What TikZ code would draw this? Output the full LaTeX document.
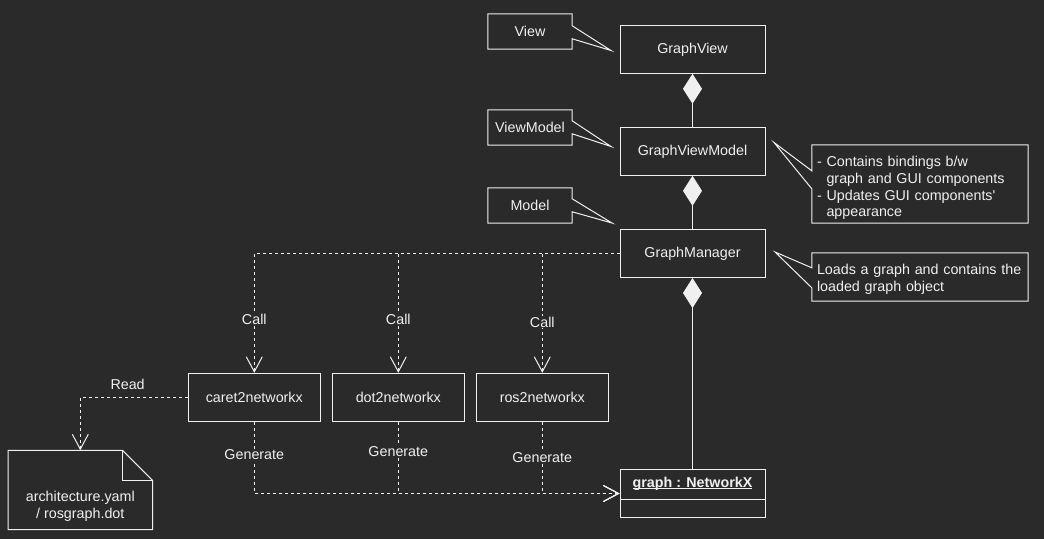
\documentclass[tikz,border=0pt]{standalone}
\usepackage{fontspec}
\setmainfont{Liberation Sans}
\usetikzlibrary{calc,arrows.meta}
\definecolor{bg}{HTML}{2A2A2A}
\definecolor{fg}{HTML}{F0F0F0}
\newcommand\ulname[1]{\setbox0\hbox{#1}\makebox[0pt][l]{\rule[-2pt]{\wd0}{1pt}}\box0}

\begin{document}
\begin{tikzpicture}[x=1pt,y=-1pt,
    every node/.style={text=fg, font=\fontsize{14.3}{16.7}\selectfont},
    cls/.style={draw=fg, line width=1pt, minimum width=145pt, minimum height=48pt},
    tool/.style={draw=fg, line width=1pt, minimum width=132pt, minimum height=48pt},
    tag/.style={minimum width=84pt, minimum height=35pt},
    memo/.style={minimum width=216pt, text width=206pt, align=left},
    outline/.style={draw=fg, line width=1pt, line join=miter},
    dep/.style={draw=fg, line width=1pt, dash pattern=on 3pt off 3pt,
      arrows={-Straight Barb[length=15pt,width=16pt]}},
    comp/.style={draw=fg, line width=1pt,
      arrows={Diamond[length=30pt,width=19pt,fill=fg]-}},
    lbl/.style={fill=bg, inner sep=1pt}]
    \path[fill=bg] (0,0) rectangle (1044,539);

    % classes
    \node[cls] (view) at (692.5,49.3) {GraphView};
    \node[cls] (viewmodel) at (692.5,151.3) {GraphViewModel};
    \node[cls] (manager) at (692.5,253.5) {GraphManager};
    \node[tool] (caret) at (254.3,397.3) {caret2networkx};
    \node[tool] (dot) at (398.3,397.3) {dot2networkx};
    \node[tool] (ros) at (542.3,397.3) {ros2networkx};
    \node[cls] (graph) at (692.5,493.5) {};
    \node (graphname) at (692.5,483.5) {\ulname{\textbf{graph : NetworkX}}};
    \draw[outline] ($(graph.north west)+(0,30)$) -- ($(graph.north east)+(0,30)$);

    % callouts on the left
    \node[tag] (viewtag) at (530,31.5) {View};
    \node[tag] (viewmodeltag) at (530,127.5) {ViewModel};
    \node[tag] (modeltag) at (530,205.5) {Model};
    \coordinate (viewtip) at (611,50.5);
    \coordinate (viewmodeltip) at (611,146.5);
    \coordinate (modeltip) at (612,223);
    \foreach \t/\a/\b in {viewtag/viewtip/12, viewmodeltag/viewmodeltip/11, modeltag/modeltip/11}{
      \draw[outline] (\t.north west) -- (\t.north east) -- ($(\t.north east)+(0,\b)$)
        -- (\a) -- ($(\t.north east)+(0,\b+13)$) -- (\t.south east) -- (\t.south west) -- cycle;
    }

    % callouts on the right
    \node[memo, minimum height=78pt] (bindmemo) at (920,184) {};
    \node[memo] (bindtext) at ($(bindmemo.center)+(0,4)$)
      {- Contains bindings b/w\\\phantom{-~}graph and GUI components\\- Updates GUI components\textquotesingle\\\phantom{-~}appearance};
    \node[memo, minimum height=48pt] (loadmemo) at (920,277) {};
    \node[memo] (loadtext) at ($(loadmemo.center)+(0,2.5)$)
      {Loads a graph and contains the\\loaded graph object};
    \coordinate (bindtip) at (774,142.5);
    \coordinate (loadtip) at (775,252);
    \draw[outline] (bindmemo.north west) -- (bindmemo.north east) -- (bindmemo.south east)
      -- (bindmemo.south west) -- ($(bindmemo.north west)+(0,44)$) -- (bindtip)
      -- ($(bindmemo.north west)+(0,26)$) -- cycle;
    \draw[outline] (loadmemo.north west) -- (loadmemo.north east) -- (loadmemo.south east)
      -- (loadmemo.south west) -- ($(loadmemo.north west)+(0,35)$) -- (loadtip)
      -- ($(loadmemo.north west)+(0,15)$) -- cycle;

    % input file
    \node[minimum width=144pt, minimum height=79pt] (file) at (80.3,490) {};
    \node[align=center] (filename) at (80.3,506) {architecture.yaml\\/ rosgraph.dot};
    \draw[outline] (file.north west) -- ($(file.north east)+(-30,0)$) -- ($(file.north east)+(0,30)$)
      -- (file.south east) -- (file.south west) -- cycle;
    \draw[outline] ($(file.north east)+(-30,0)$) |- ($(file.north east)+(0,30)$);

    % composition
    \draw[comp] (view.south) -- (viewmodel.north);
    \draw[comp] (viewmodel.south) -- (manager.north);
    \draw[comp] (manager.south) -- (graph.north);

    % dependencies
    \draw[dep] (manager.west) -| node[lbl, pos=0.775] (callcaret) {Call} (caret.north);
    \draw[dep] (manager.west) -| node[lbl, pos=0.775] (calldot) {Call} (dot.north);
    \draw[dep] (manager.west) -| node[lbl, pos=0.7875] (callros) {Call} (ros.north);
    \draw[dep] (caret.west) -| node[pos=0.28, above=4pt] (read) {Read} (file.north);
    \draw[dep] (caret.south) |- node[lbl, pos=0.231] (gencaret) {Generate} (graph.west);
    \draw[dep] (dot.south) |- node[lbl, pos=0.206] (gendot) {Generate} (graph.west);
    \draw[dep] (ros.south) |- node[lbl, pos=0.247] (genros) {Generate} (graph.west);
  \end{tikzpicture}
\end{document}
